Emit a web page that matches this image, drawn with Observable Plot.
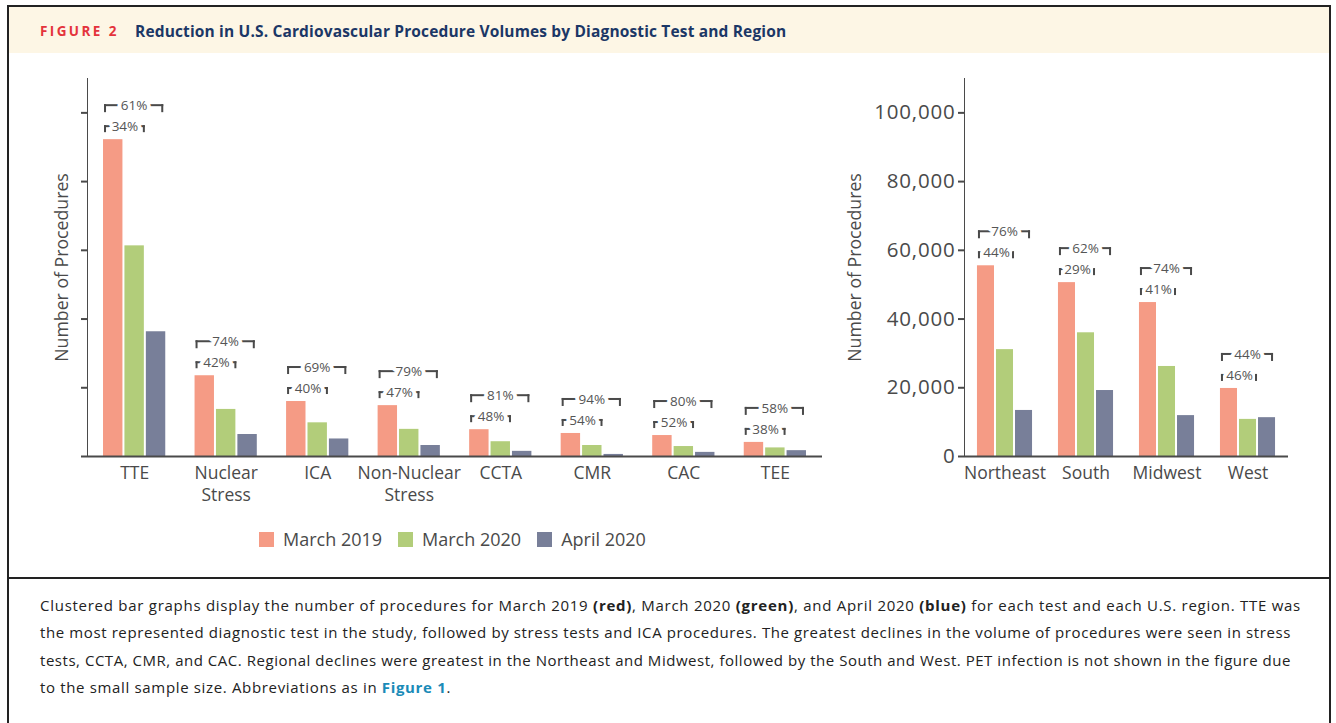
<!DOCTYPE html>
<html>
<head>
<meta charset="utf-8">
<script src="https://cdn.jsdelivr.net/npm/d3@7"></script>
<script src="https://cdn.jsdelivr.net/npm/@observablehq/plot@0.6"></script>
<style>
  html, body { margin: 0; padding: 0; background: #fff; }
  body { width: 1336px; height: 723px; overflow: hidden; position: relative; font-family: "Open Sans", "Noto Sans", sans-serif; }
  #border { position: absolute; left: 7px; top: 5px; width: 1324px; height: 760px; border: 2px solid #222; border-bottom: none; box-sizing: border-box; }
  #band { position: absolute; left: 9px; top: 7px; width: 1320px; height: 46px; background: #fdf6e5; }
  #fig { position: absolute; left: 40px; top: 21px; font-family: "Open Sans", sans-serif; font-weight: 700; font-size: 13.5px; letter-spacing: 2.4px; color: #e4333c; line-height: 20px; }
  #title { position: absolute; left: 135px; top: 20px; font-family: "Open Sans", sans-serif; font-weight: 700; font-size: 15.5px; letter-spacing: 0.15px; color: #1b3766; line-height: 22px; }
  #divider { position: absolute; left: 7px; top: 577px; width: 1324px; height: 2px; background: #222; }
  .chart { position: absolute; top: 60px; }
  .chart [aria-label^="y-axis"], .chart [aria-label^="y-axis"] * { stroke-width: 2px; }
  #right [aria-label="y-axis tick label"] { letter-spacing: 0.8px; }
  #legend { position: absolute; left: 259px; top: 528px; height: 22px; display: flex; align-items: center; font-size: 18px; color: #4a4a4a; }
  .sw { width: 15px; height: 15px; margin-right: 9px; }
  .item { display: flex; align-items: center; margin-right: 16px; }
  #caption { position: absolute; left: 40px; top: 592px; font-family: "Open Sans", sans-serif; font-size: 15px; line-height: 27.3px; color: #222; white-space: nowrap; }
  #caption span { display: block; }
  #caption b.fig { color: #1a8bb8; }
</style>
</head>
<body>
<div id="band"></div>
<div id="border"></div>
<div id="fig">FIGURE 2</div>
<div id="title">Reduction in U.S. Cardiovascular Procedure Volumes by Diagnostic Test and Region</div>
<div id="left" class="chart" style="left:0px"></div>
<div id="right" class="chart" style="left:840px"></div>
<div id="legend"></div>
<div id="divider"></div>
<div id="caption">
<span data-w="1261">Clustered bar graphs display the number of procedures for March 2019 <b>(red)</b>, March 2020 <b>(green)</b>, and April 2020 <b>(blue)</b> for each test and each U.S. region. TTE was</span>
<span data-w="1251">the most represented diagnostic test in the study, followed by stress tests and ICA procedures. The greatest declines in the volume of procedures were seen in stress</span>
<span data-w="1251">tests, CCTA, CMR, and CAC. Regional declines were greatest in the Northeast and Midwest, followed by the South and West. PET infection is not shown in the figure due</span>
<span data-w="411">to the small sample size. Abbreviations as in <b class="fig">Figure 1</b>.</span>
</div>
<script>
// ---- data ----
const periods = ["March 2019", "March 2020", "April 2020"];
const periodColors = ["#f59b85", "#b2cd7a", "#787f99"];

const tests = ["TTE", "Nuclear Stress", "ICA", "Non-Nuclear Stress", "CCTA", "CMR", "CAC", "TEE"];
const testLabels = ["TTE", "Nuclear\nStress", "ICA", "Non-Nuclear\nStress", "CCTA", "CMR", "CAC", "TEE"];
const testMar2019 = [92200, 23500, 16000, 14800, 7800, 6700, 6100, 4100];
const testMar2020 = [61300, 13700, 9800, 7900, 4300, 3200, 2900, 2500];
const testApr2020 = [36300, 6400, 5100, 3200, 1500, 600, 1200, 1700];
const testDropMar2020 = [34, 42, 40, 47, 48, 54, 52, 38];
const testDropApr2020 = [61, 74, 69, 79, 81, 94, 80, 58];

const regions = ["Northeast", "South", "Midwest", "West"];
const regionMar2019 = [55500, 50600, 44800, 19800];
const regionMar2020 = [31100, 36000, 26200, 10800];
const regionApr2020 = [13400, 19200, 11900, 11300];
const regionDropMar2020 = [44, 29, 41, 46];
const regionDropApr2020 = [76, 62, 74, 44];

const yDomain = [0, 110000];
const yTicks = [0, 20000, 40000, 60000, 80000, 100000];
const yLabel = "Number of Procedures";

const ink = "#4a4a4a";

function drawChart(o) {
  const height = 470, marginTop = 18, marginBottom = 74;
  const paddingInner = 0.32;
  const band = d3.scaleBand(o.cats, [o.marginLeft, o.width - o.marginRight])
    .paddingInner(paddingInner).paddingOuter(o.paddingOuter);
  const W = band.bandwidth();
  const gap = 2;
  const bw = (W - 2 * gap) / 3;
  const rows = o.cats.map((cat, i) => ({
    cat, label: o.labels[i], v0: o.v0[i], v1: o.v1[i], v2: o.v2[i],
    p1: o.p1[i] + "%", p2: o.p2[i] + "%"
  }));
  const keys = ["v0", "v1", "v2"];
  const bars = keys.map((key, k) => Plot.barY(rows, {
    x: "cat", y: key, fill: periodColors[k],
    insetLeft: k * (bw + gap), insetRight: W - k * (bw + gap) - bw
  }));
  // bracket pieces (drawn relative to the March 2019 bar top)
  const piece = (l, r, top, bottom) => Plot.barY(rows, {
    x: "cat", y1: "v0", y2: "v0", fill: ink,
    insetLeft: l, insetRight: W - r, insetTop: top, insetBottom: -bottom
  });
  const upL = 1, upR = W - 2, loL = 1, loR = 2 * bw + gap + 1;
  const upper = [piece(upL, upR, -35, -33)];
  const upperTicks = [piece(upL, upL + 2, -35, -27), piece(upR - 2, upR, -35, -27)];
  const lower = [piece(loL, loR, -14, -12)];
  const lowerTicks = [piece(loL, loL + 2, -14, -7), piece(loR - 2, loR, -14, -7)];
  const pctText = (field, dx, dy) => Plot.text(rows, {
    x: "cat", y: "v0", text: field, dx, dy,
    fill: "#555", stroke: "white", strokeWidth: 8, paintOrder: "stroke",
    fontSize: 13.5
  });
  return Plot.plot({
    width: o.width, height, marginTop, marginBottom,
    marginLeft: o.marginLeft, marginRight: o.marginRight,
    style: { fontFamily: '"Open Sans", sans-serif', fontSize: o.tickFontSize + "px", color: ink, background: "transparent" },
    x: { type: "band", domain: o.cats, paddingInner, paddingOuter: o.paddingOuter, round: false, axis: null, label: null },
    y: {
      domain: yDomain, ticks: yTicks, tickSize: 6, tickPadding: 3, line: true, label: null,
      tickFormat: o.showTickLabels ? d3.format(",") : () => ""
    },
    marks: [
      ...bars,
      Plot.ruleY([0], { stroke: ink, strokeWidth: 2 }),
      ...upper, ...lower,
      pctText("p2", (upL + upR) / 2 - W / 2, -34),
      pctText("p1", (loL + loR) / 2 - W / 2, -13),
      ...upperTicks, ...lowerTicks,
      Plot.text(rows, {
        x: "cat", frameAnchor: "bottom", text: "label", lineAnchor: "top",
        dy: 7, lineHeight: 1.25, fontSize: 17.5, fill: ink
      }),
      Plot.text([yLabel], {
        frameAnchor: "left", textAnchor: "middle", text: d => d, rotate: -90, dx: o.labelDx,
        fontSize: 17.7, fill: ink
      })
    ]
  });
}

document.getElementById("left").appendChild(drawChart({
  cats: tests, labels: testLabels,
  v0: testMar2019, v1: testMar2020, v2: testApr2020,
  p1: testDropMar2020, p2: testDropApr2020,
  width: 840, marginLeft: 87, marginRight: 18, paddingOuter: 0.175,
  showTickLabels: false, labelDx: -25, tickFontSize: 18
}));

document.getElementById("right").appendChild(drawChart({
  cats: regions, labels: regions,
  v0: regionMar2019, v1: regionMar2020, v2: regionApr2020,
  p1: regionDropMar2020, p2: regionDropApr2020,
  width: 496, marginLeft: 124, marginRight: 48, paddingOuter: 0.16,
  showTickLabels: true, labelDx: -109, tickFontSize: 20.5
}));

// legend
const legend = document.getElementById("legend");
periods.forEach((p, i) => {
  const item = document.createElement("div");
  item.className = "item";
  const sw = document.createElement("div");
  sw.className = "sw";
  sw.style.background = periodColors[i];
  const t = document.createElement("span");
  t.textContent = p;
  item.appendChild(sw); item.appendChild(t);
  legend.appendChild(item);
});

// fit caption lines to the reference line lengths
document.querySelectorAll("#caption span").forEach(s => {
  const target = +s.dataset.w;
  s.style.display = "inline-block";
  const w = s.getBoundingClientRect().width;
  const n = s.textContent.length;
  s.style.letterSpacing = ((target - w) / n) + "px";
  s.style.display = "block";
});
</script>
</body>
</html>
